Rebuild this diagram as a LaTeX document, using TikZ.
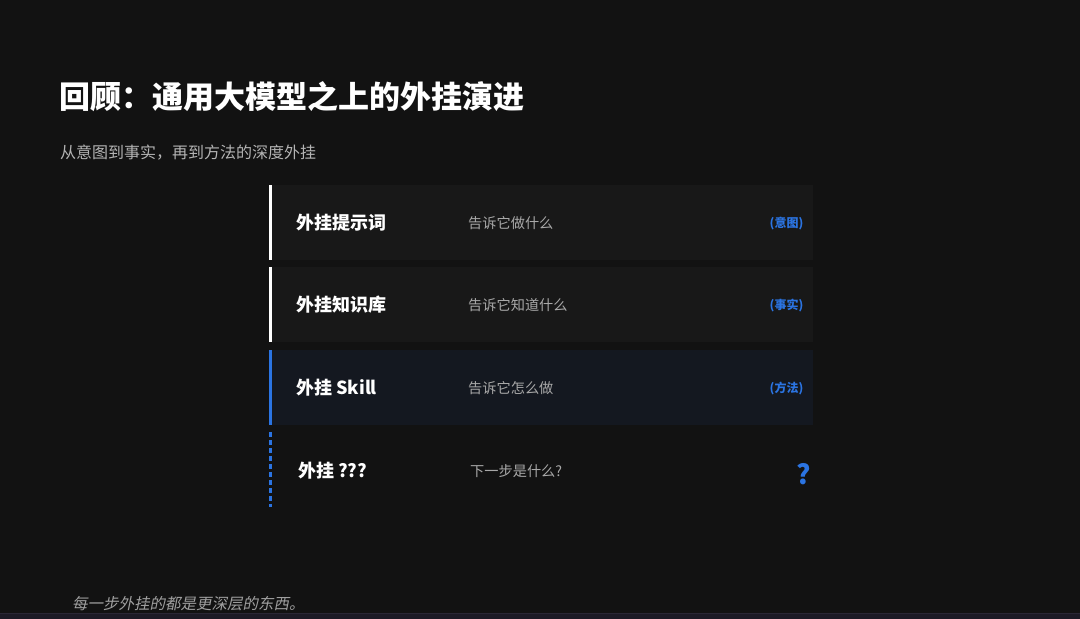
\documentclass[tikz,border=0pt]{standalone}
\usepackage{fontspec}
\newfontfamily\cjk{Noto Sans CJK SC}
\newfontfamily\cjkit[FakeSlant=0.2]{Noto Sans CJK SC}
\definecolor{bgc}{HTML}{121212}
\definecolor{boxc}{HTML}{181818}
\definecolor{boxblue}{HTML}{141820}
\definecolor{accent}{HTML}{2B74E2}
\definecolor{subgray}{HTML}{B4B4B4}
\definecolor{descgray}{HTML}{A8A8A8}
\definecolor{footgray}{HTML}{A0A0A0}
\definecolor{stripc}{HTML}{1C1A25}
\definecolor{stripline}{HTML}{2A2735}
\tikzset{
  rowbox/.style={rectangle, inner sep=0pt, minimum width=544pt, minimum height=75pt, anchor=north west},
  rowname/.style={anchor=west, inner sep=0pt, text=white, font=\cjk\bfseries\fontsize{18}{18}\selectfont},
  rowdesc/.style={anchor=west, inner sep=0pt, text=descgray, font=\cjk\fontsize{14.2}{14.2}\selectfont},
  rowtag/.style={anchor=east, inner sep=0pt, text=accent, font=\cjk\bfseries\fontsize{12}{12}\selectfont},
}
\begin{document}
\begin{tikzpicture}[x=1pt,y=-1pt]
\fill[bgc] (0,0) rectangle (1080,619);
\useasboundingbox (0,0) rectangle (1080,619);
\fill[stripc] (0,613) rectangle (1080,619);
\draw[stripline, line width=0.8pt] (0,613.4) -- (1080,613.4);

\node[anchor=west, inner sep=0pt, text=white, font=\cjk\bfseries\fontsize{31}{31}\selectfont] (title) at (59,97) {回顾：通用大模型之上的外挂演进};
\node[anchor=west, inner sep=0pt, text=subgray, font=\cjk\fontsize{16}{16}\selectfont] (subtitle) at (60,153) {从意图到事实，再到方法的深度外挂};

% row 1
\node[rowbox, fill=boxc] (r1) at (269,185) {};
\fill[white] (r1.north west) rectangle ([xshift=3pt]r1.south west);
\node[rowname] (n1) at (296,223) {外挂提示词};
\node[rowdesc] (d1) at (468,223.5) {告诉它做什么};
\node[rowtag] (t1) at (803.5,223.5) {(意图)};

% row 2
\node[rowbox, fill=boxc] (r2) at (269,267) {};
\fill[white] (r2.north west) rectangle ([xshift=3pt]r2.south west);
\node[rowname] (n2) at (296,305) {外挂知识库};
\node[rowdesc] (d2) at (468,305.5) {告诉它知道什么};
\node[rowtag] (t2) at (803.5,305.5) {(事实)};

% row 3
\node[rowbox, fill=boxblue] (r3) at (269,350) {};
\fill[accent] (r3.north west) rectangle ([xshift=3pt]r3.south west);
\node[rowname] (n3) at (296,388) {外挂 Skill};
\node[rowdesc] (d3) at (468,388.5) {告诉它怎么做};
\node[rowtag] (t3) at (803.5,388.5) {(方法)};

% row 4
\node[rowbox] (r4) at (269,432) {};
\draw[accent, line width=3pt, dash pattern=on 5pt off 3pt] ([xshift=1.5pt]r4.north west) -- ([xshift=1.5pt]r4.south west);
\node[rowname] (n4) at (298,471) {外挂 ???};
\node[rowdesc] (d4) at (470,471.5) {下一步是什么?};
\node[anchor=east, inner sep=0pt, text=accent, font=\cjk\bfseries\fontsize{27}{27}\selectfont] (q4) at (811,474) {?};

\node[anchor=west, inner sep=0pt, text=footgray, font=\cjkit\fontsize{15.5}{15.5}\selectfont] (foot) at (72,604) {每一步外挂的都是更深层的东西。};
\end{tikzpicture}
\end{document}
